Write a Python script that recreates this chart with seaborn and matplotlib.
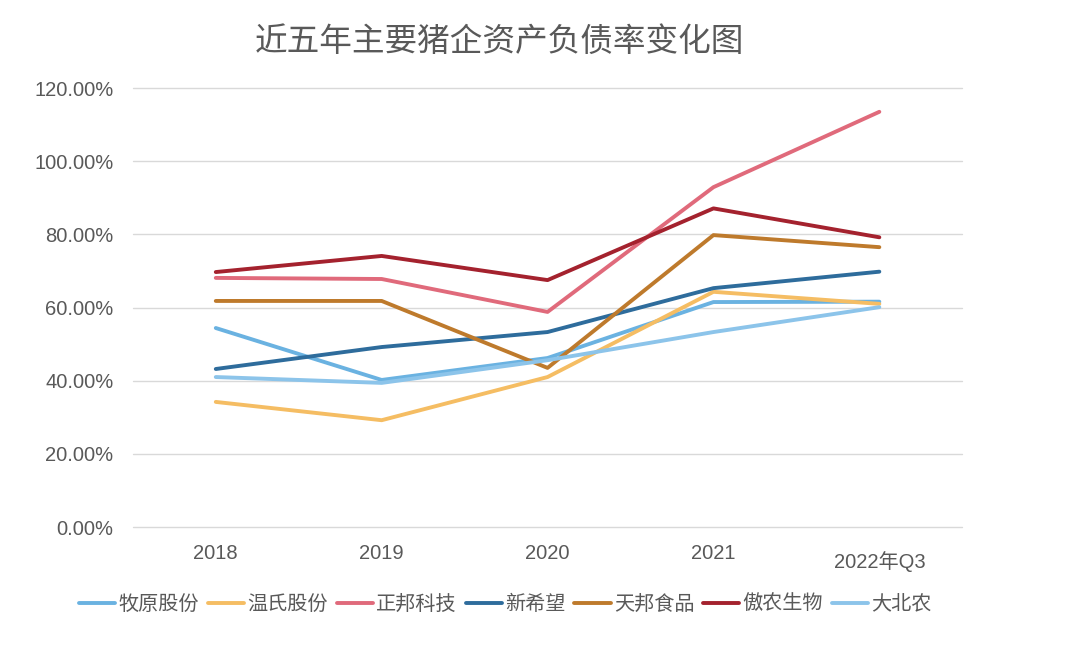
import pandas as pd
import matplotlib.pyplot as plt
import matplotlib.transforms as mtransforms
import seaborn as sns

# data (asset-liability ratio, %)
years = ["2018", "2019", "2020", "2021", "2022年Q3"]
companies = ["牧原股份", "温氏股份", "正邦科技", "新希望", "天邦食品", "傲农生物", "大北农"]
muyuan = [54.4, 40.2, 46.2, 61.5, 61.6]
wens = [34.2, 29.2, 41.0, 64.3, 61.0]
zhengbang = [68.1, 67.8, 58.8, 92.9, 113.5]
xinxiwang = [43.2, 49.2, 53.3, 65.3, 69.8]
tianbang = [61.8, 61.8, 43.5, 79.8, 76.5]
aonong = [69.7, 74.1, 67.5, 87.1, 79.2]
dabeinong = [41.0, 39.4, 45.6, 53.3, 60.1]
colors = ["#6AB2E1", "#F5BD63", "#E06A7B", "#2E6C9C", "#BE7A2C", "#A4222E", "#8CC4EA"]

series = [muyuan, wens, zhengbang, xinxiwang, tianbang, aonong, dabeinong]
rows = []
for name, vals in zip(companies, series):
    for i, v in enumerate(vals):
        rows.append({"year": i, "company": name, "ratio": v})
df = pd.DataFrame(rows)

sns.set_style("white")
plt.rcParams['font.family'] = ['Liberation Sans', 'Noto Sans CJK SC', 'DejaVu Sans']
grey = "#595959"

fig = plt.figure(figsize=(10.8, 6.56), dpi=100)
ax = fig.add_axes([0.123, 0.1966, 0.768, 0.6692])

sns.lineplot(data=df, x="year", y="ratio", hue="company", hue_order=companies,
             palette=colors, linewidth=2.8, ax=ax, legend=True)

ax.set_xlim(-0.5, 4.5)
ax.set_ylim(0, 120)
ax.set_yticks(range(0, 121, 20))
ax.set_yticklabels([f"{v:.2f}%" for v in range(0, 121, 20)])
ax.set_xticks(range(len(years)))
ax.set_xticklabels(years)
ax.grid(axis="y", color="#D9D9D9", linewidth=1)
ax.set_axisbelow(True)
for gl in ax.get_ygridlines():
    gl.set_clip_on(False)
for s in ax.spines.values():
    s.set_visible(False)
ax.tick_params(axis="both", length=0, labelsize=14.5, labelcolor=grey)
ax.tick_params(axis="x", pad=12)
ax.tick_params(axis="y", pad=14)
ax.set_xlabel("")
ax.set_ylabel("")

# last label sits a bit lower in the original
lbl = ax.get_xticklabels()[-1]
lbl.set_transform(lbl.get_transform() + mtransforms.ScaledTranslation(0, -0.07, fig.dpi_scale_trans))

handles, labels = ax.get_legend_handles_labels()
ax.get_legend().remove()
fig.legend(handles, labels, loc="center", bbox_to_anchor=(0.468, 0.079), ncol=7,
           frameon=False, fontsize=14.5, labelcolor=grey, handlelength=1.8,
           handletextpad=0.15, columnspacing=0.45)

fig.text(0.462, 0.936, "近五年主要猪企资产负债率变化图", ha="center", va="center",
         fontsize=23.5, color=grey)

plt.savefig("out.png", dpi=100)
